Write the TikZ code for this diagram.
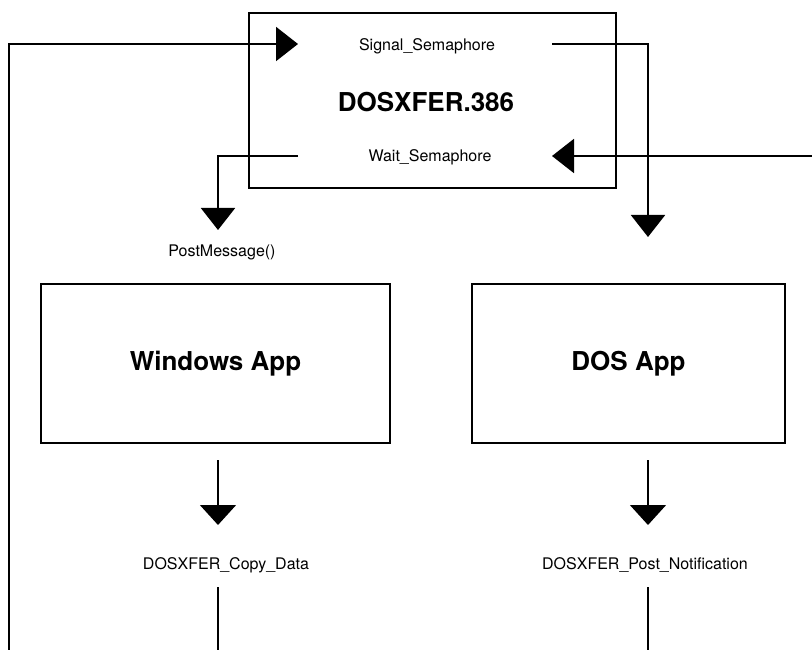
\documentclass[tikz,border=0pt]{standalone}
\usepackage{fontspec}
\setmainfont{TeX Gyre Heros}
\usetikzlibrary{arrows.meta}
\begin{document}
\begin{tikzpicture}[x=1pt,y=1pt,
  box/.style={draw,line width=2pt,inner sep=0pt},
  title/.style={font=\bfseries\fontsize{26}{30}\selectfont},
  lbl/.style={font=\fontsize{16}{19}\selectfont},
  wire/.style={line width=2pt},
  flow/.style={wire,-{Triangle[length=22pt,width=34pt]}},
  thinflow/.style={line width=1.6pt,-{Triangle[length=20pt,width=36pt]}}]
\useasboundingbox (0,0) rectangle (812,-650);

% the VxD and its two services
\node[box,minimum width=367pt,minimum height=175pt] (drv) at (432.5,-100.5) {};
\node[title] (drvname) at (426,-102) {DOSXFER.386};
\node[lbl] (sig) at (427,-46) {Signal\_Semaphore};
\node[lbl] (wait) at (430,-157) {Wait\_Semaphore};

% the two applications
\node[box,title,minimum width=349pt,minimum height=159pt] (win) at (215.5,-363.5) {Windows App};
\node[box,title,minimum width=313pt,minimum height=159pt] (dos) at (628.5,-363.5) {DOS App};

% call labels
\node[lbl] (post) at (222,-252) {PostMessage()};
\node[lbl] (copy) at (226,-565) {DOSXFER\_Copy\_Data};
\node[lbl] (notify) at (645,-565) {DOSXFER\_Post\_Notification};

% wire end points
\coordinate (loopL) at (9,-650);
\coordinate (sigIn) at (298,-44);
\coordinate (sigOut) at (552,-44);
\coordinate (dosIn) at (648,-237);
\coordinate (loopR) at (812,-156);
\coordinate (waitIn) at (552,-156);
\coordinate (waitOut) at (298,-156);
\coordinate (postIn) at (218,-230);
\coordinate (winOut) at (218,-460);
\coordinate (copyIn) at (218,-525);
\coordinate (copyOut) at (218,-587);
\coordinate (copyEnd) at (218,-650);
\coordinate (dosOut) at (648,-460);
\coordinate (notifyIn) at (648,-525);
\coordinate (notifyOut) at (648,-587);
\coordinate (notifyEnd) at (648,-650);

% connectors
\draw[flow] (loopL) |- (sigIn);
\draw[flow] (sigOut) -| (dosIn);
\draw[flow] (loopR) -- (waitIn);
\draw[flow] (waitOut) -| (postIn);
\draw[thinflow] (winOut) -- (copyIn);
\draw[thinflow] (dosOut) -- (notifyIn);
\draw[line width=1.6pt] (copyOut) -- (copyEnd);
\draw[line width=1.6pt] (notifyOut) -- (notifyEnd);
\end{tikzpicture}
\end{document}
